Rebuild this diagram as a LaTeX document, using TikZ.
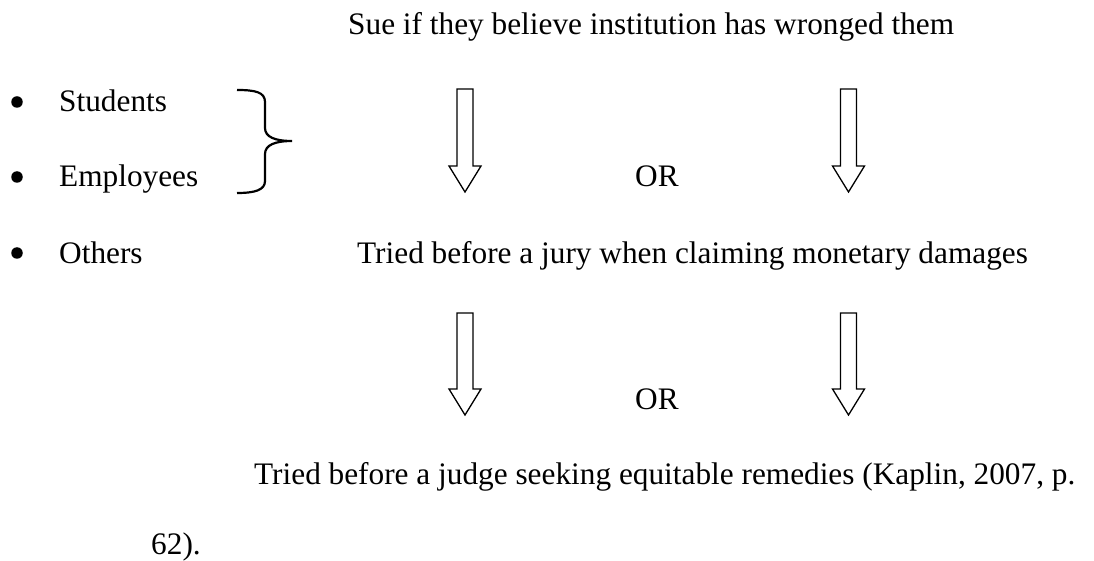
\documentclass[tikz,border=0pt]{standalone}
\usepackage{fontspec}
\setmainfont{Liberation Serif}
\begin{document}
\begin{tikzpicture}[x=1pt,y=-1pt,
  txt/.style={anchor=base west,inner sep=0pt,font=\fontsize{31.3}{38}\selectfont},
  blockarrow/.style={draw=black,line width=1.3pt,fill=white,line join=miter},
  bracestyle/.style={draw=black,line width=2.2pt},
  bulletdot/.style={circle,fill=black,inner sep=0pt,minimum size=11.5pt}]
\useasboundingbox (0,0) rectangle (1094,561);
% texts
\node[txt] (sue) at (348,35) {Sue if they believe institution has wronged them};
\node[bulletdot] (b1) at (17,102) {};
\node[txt] (stud) at (59,112) {Students};
\node[bulletdot] (b2) at (17,177) {};
\node[txt] (empl) at (59,187) {Employees};
\node[bulletdot] (b3) at (17,253) {};
\node[txt] (oth) at (59,263) {Others};
\node[txt] (or1) at (635,187) {OR};
\node[txt] (jury) at (357,263) {Tried before a jury when claiming monetary damages};
\node[txt] (or2) at (635,409) {OR};
\node[txt] (judge) at (254,484) {Tried before a judge seeking equitable remedies (Kaplin, 2007, p.};
\node[txt] (pg) at (151,554) {62).};
% brace
\draw[bracestyle] (237,90) .. controls (255,90) and (265,92) .. (265,102)
  -- (265,128) .. controls (265,137) and (275,141) .. (292,141)
  .. controls (275,141) and (265,145) .. (265,154)
  -- (265,181) .. controls (265,190) and (255,193) .. (237,193);
% block arrows
\newcommand{\barrow}[4]{% center x, top, head start, tip
  \draw[blockarrow] ({#1-8},#2) -- ({#1+8},#2) -- ({#1+8},#3) -- ({#1+16},#3)
    -- (#1,#4) -- ({#1-16},#3) -- ({#1-8},#3) -- cycle;}
\barrow{465}{89}{166}{192}
\barrow{848.5}{89}{166}{192}
\barrow{465}{313}{389}{415}
\barrow{848.5}{313}{389}{415}
\end{tikzpicture}
\end{document}
